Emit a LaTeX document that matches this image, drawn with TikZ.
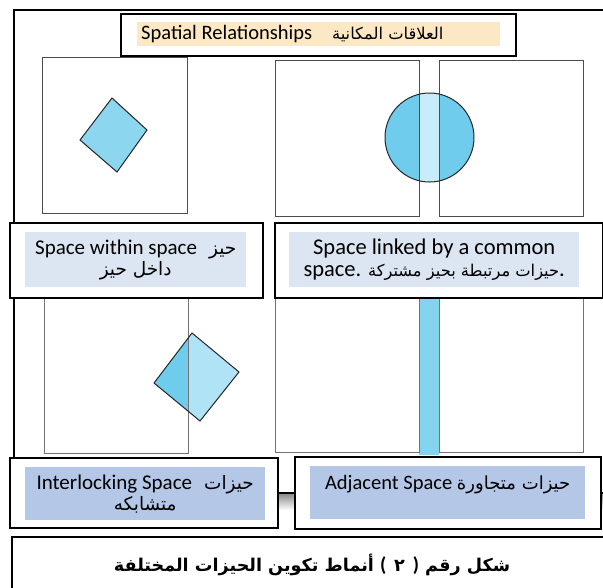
\documentclass[tikz,border=0pt]{standalone}
\usepackage{fontspec}
\setmainfont{Carlito}
\newfontfamily\arabicfont[Script=Arabic,Scale=0.88]{DejaVu Sans}
\TeXXeTstate=1
\usetikzlibrary{positioning}
\definecolor{titlefill}{RGB}{252,232,196}
\definecolor{upperfill}{RGB}{220,230,242}
\definecolor{lowerfill}{RGB}{180,199,231}
\definecolor{sketchcyan}{RGB}{112,204,236}
\definecolor{palecyan}{RGB}{200,237,250}
\newcommand{\artext}[1]{{\arabicfont\beginR #1\endR}}

\begin{document}
\begin{tikzpicture}[
        x=1pt, y=-1pt,
        font=\fontsize{21}{21}\selectfont,
        frameline/.style={line width=1.5pt},
        sketch/.style={draw=black!70, line width=1pt},
        shapeline/.style={draw=black!85, line width=1pt},
        labelbox/.style={draw, line width=2pt, fill=white, inner sep=0pt, anchor=north west},
        fillbox/.style={inner sep=0pt, anchor=north west},
        labeltext/.style={align=center, inner sep=0pt}]

  \useasboundingbox (0,0) rectangle (603,587);
  \clip (0,0) rectangle (603,587);

  % outer frame ---------------------------------------------
  \shade[top color=black!45, bottom color=white] (14,494) rectangle (606,510);
  \draw[frameline] (14,493) -- (14,10) -- (606,10);
  \draw[line width=2pt] (14,493) -- (606,493);

  % space within space --------------------------------------
  \draw[sketch] (42,57) rectangle (187,213);
  \filldraw[shapeline, fill=sketchcyan!80] (112,98) -- (147,130) -- (117,172) -- (80,140) -- cycle;

  % space linked by a common space ---------------------------
  \fill[sketchcyan] (429.5,137.5) circle (44.5);
  \begin{scope}
    \clip (429.5,137.5) circle (44.5);
    \fill[palecyan] (419,90) rectangle (439,185);
  \end{scope}
  \draw[sketch] (275,60) rectangle (419,216);
  \draw[sketch] (439,60) rectangle (583,216);
  \draw[shapeline] (429.5,137.5) circle (44.5);

  % interlocking space --------------------------------------
  \fill[sketchcyan] (192,333) -- (239,372) -- (200,421) -- (154,383) -- cycle;
  \begin{scope}
    \clip (188,320) rectangle (250,430);
    \fill[sketchcyan!55] (192,333) -- (239,372) -- (200,421) -- (154,383) -- cycle;
  \end{scope}
  \draw[sketch, draw=black!55] (44,280) rectangle (188,453);
  \draw[shapeline] (192,333) -- (239,372) -- (200,421) -- (154,383) -- cycle;

  % adjacent space ------------------------------------------
  \fill[sketchcyan!85] (419,280) rectangle (439,455);
  \draw[sketch, draw=black!55] (275,280) rectangle (419,452);
  \draw[sketch, draw=black!55] (439,280) rectangle (583,452);

  % title -----------------------------------------------------
  \node[labelbox, minimum width=395pt, minimum height=42pt] (titlebox) at (120,13) {};
  \node[fillbox, fill=titlefill, minimum width=363pt, minimum height=24pt] (titlefill) at (137,22) {};
  \node[anchor=west, inner sep=0pt, font=\fontsize{20.5}{22}\selectfont] (title)
        at (141,34) {Spatial Relationships\hspace{20pt}{\fontsize{18.5}{22}\selectfont\artext{العلاقات المكانية}}};

  % upper labels ------------------------------------------------
  \node[labelbox, minimum width=253pt, minimum height=75pt] (withinbox) at (9,222) {};
  \node[fillbox, fill=upperfill, minimum width=221pt, minimum height=55pt] (withinfill) at (25,232) {};
  \node[labeltext] (within) at (withinfill.center)
        {Space within space\hspace{12pt}\artext{حيز}\\ \artext{داخل حيز}};

  \node[labelbox, minimum width=328pt, minimum height=75pt] (linkedbox) at (274,222) {};
  \node[fillbox, fill=upperfill, minimum width=290pt, minimum height=55pt] (linkedfill) at (289,232) {};
  \node[labeltext, font=\fontsize{22.5}{22}\selectfont] (linked) at (linkedfill.center)
        {Space linked by a common\\ space. {\fontsize{18.5}{22}\selectfont\artext{حيزات مرتبطة بحيز مشتركة}}.};

  % lower labels ------------------------------------------------
  \node[labelbox, minimum width=268pt, minimum height=70pt] (interbox) at (9,457) {};
  \node[fillbox, fill=lowerfill, minimum width=240pt, minimum height=53pt] (interfill) at (25,467) {};
  \node[labeltext] (inter) at (interfill.center)
        {Interlocking Space\hspace{12pt}\artext{حيزات}\\ \artext{متشابكه}};

  \node[labelbox, minimum width=306pt, minimum height=72pt] (adjbox) at (294,456) {};
  \node[fillbox, fill=lowerfill, minimum width=275pt, minimum height=53pt] (adjfill) at (310,466) {};
  \node[labeltext, font=\fontsize{20.5}{21}\selectfont, below=9pt of adjfill.north] (adj)
        {Adjacent Space \artext{حيزات متجاورة}};

  % caption -----------------------------------------------------
  \node[labelbox, minimum width=620pt, minimum height=70pt] (capbox) at (11,536) {};
  \node[labeltext, font=\fontsize{20}{24}\bfseries] (caption) at (312,565)
        {\artext{أنماط تكوين الحيزات المختلفة}\hspace{6pt}(\hspace{8pt}\artext{٢}\hspace{8pt})\hspace{6pt}\artext{شكل رقم}};

\end{tikzpicture}
\end{document}
